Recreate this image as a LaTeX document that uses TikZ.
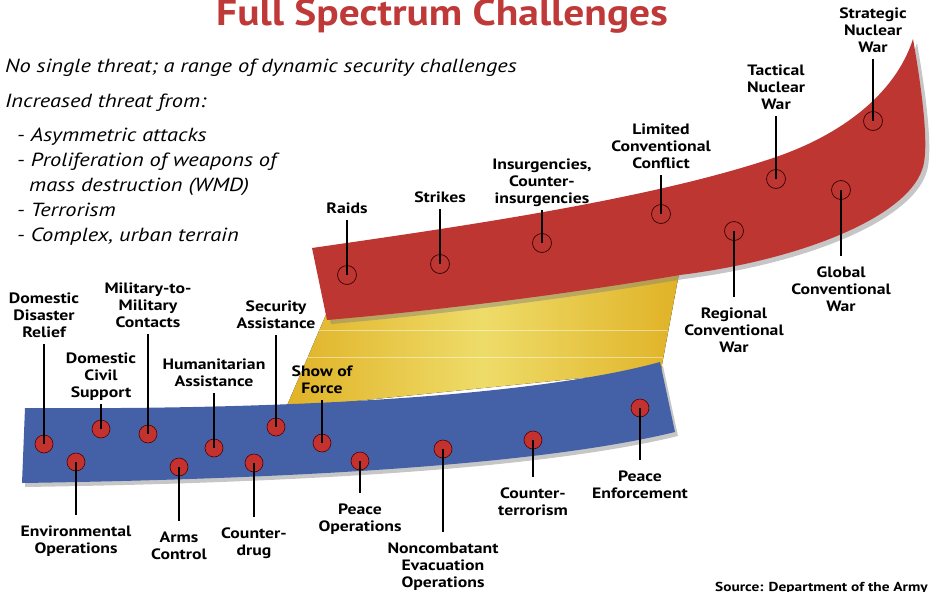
\documentclass[tikz,border=0pt]{standalone}
\usepackage{fontspec}
\setmainfont{PT Sans}[FakeStretch=1.18]
\newfontfamily\titlefont{PT Sans}[FakeStretch=1.12]
\usepackage{xcolor}
\usetikzlibrary{shadows,positioning}

\definecolor{bandred}{RGB}{190,54,50}
\definecolor{bandblue}{RGB}{68,96,166}
\definecolor{dotred}{RGB}{196,50,48}
\definecolor{titlered}{RGB}{192,57,57}
\definecolor{golddark}{RGB}{224,178,38}
\definecolor{goldlight}{RGB}{238,220,105}

\tikzstyle{lbl} = [align=center, font=\bfseries\fontsize{15}{17}\selectfont, inner xsep=1pt, outer sep=0pt]
\tikzstyle{lblup} = [lbl, anchor=south, inner ysep=6.5pt, text depth=0pt]
\tikzstyle{lbldn} = [lbl, anchor=north, inner ysep=11pt]
\tikzstyle{bluedot} = [circle, draw=black!70!red, line width=0.6pt, fill=dotred, minimum size=18pt, inner sep=0pt]
\tikzstyle{reddot} = [circle, draw=black!80!red, line width=0.7pt, minimum size=19pt, inner sep=0pt]
\tikzstyle{lead} = [line width=2pt]
\tikzstyle{note} = [anchor=base west, inner sep=0pt, font=\itshape\fontsize{19}{25}\selectfont]

\begin{document}
\begin{tikzpicture}[x=1pt, y=-1pt]
	\useasboundingbox (0,0) rectangle (930,592);

	% the three bands
	\fill[left color=golddark, right color=golddark, middle color=goldlight] (286,408) -- (328,310) -- (680,268) -- (661,370) -- cycle;
	\draw[white, opacity=.45, line width=.6pt] (319,330) -- (668,330);
	\draw[white, opacity=.45, line width=.6pt] (307,357) -- (663,357);
	\fill[bandblue, drop shadow={shadow xshift=3pt, shadow yshift=-4pt, opacity=.45}]
		(25,408) .. controls (300,410) and (540,395) .. (660,362) -- (675,432)
		.. controls (560,460) and (350,478) .. (22,483) -- cycle;
	\fill[bandred, drop shadow={shadow xshift=4pt, shadow yshift=-4pt, opacity=.45}]
		(312,248) .. controls (450,228) and (650,200) .. (776,157)
		.. controls (840,135) and (895,95) .. (913,39)
		.. controls (922,90) and (930,150) .. (922,170)
		.. controls (905,218) and (800,260) .. (680,275)
		.. controls (550,297) and (420,312) .. (327,320) -- cycle;

	% title and notes
	\node[font=\titlefont\bfseries\fontsize{37}{40}\selectfont, text=titlered, anchor=base] (title) at (442,25) {Full Spectrum Challenges};
	\node[note] (n1) at (5,72) {No single threat; a range of dynamic security challenges};
	\node[note] (n2) at (5,107) {Increased threat from:};
	\node[note] (n3) at (17,141) {- Asymmetric attacks};
	\node[note] (n4) at (17,166) {- Proliferation of weapons of};
	\node[note] (n5) at (29,191) {mass destruction (WMD)};
	\node[note] (n6) at (17,216) {- Terrorism};
	\node[note] (n7) at (17,241) {- Complex, urban terrain};
	\node[anchor=base east, inner sep=0pt, font=\bfseries\fontsize{13}{15}\selectfont] (src) at (928,591) {Source: Department of the Army};

	% blue band
	\node[bluedot] (dddr) at (44,444) {};
	\node[lblup] (ddr) at (44,344) {Domestic\\Disaster\\Relief};
	\draw[lead] (dddr.center) -- (ddr.south);
	\node[bluedot] (ddcs) at (101,429) {};
	\node[lblup] (dcs) at (101,404) {Domestic\\Civil\\Support};
	\draw[lead] (ddcs.center) -- (dcs.south);
	\node[bluedot] (dmil) at (148,434) {};
	\node[lblup] (mil) at (148,334) {Military-to-\\Military\\Contacts};
	\draw[lead] (dmil.center) -- (mil.south);
	\node[bluedot] (dhum) at (214,448) {};
	\node[lblup] (hum) at (214,393) {Humanitarian\\Assistance};
	\draw[lead] (dhum.center) -- (hum.south);
	\node[bluedot] (dsec) at (276,427) {};
	\node[lblup] (sec) at (276,335) {Security\\Assistance};
	\draw[lead] (dsec.center) -- (sec.south);
	\node[bluedot] (dsof) at (322,443) {};
	\node[lblup] (sof) at (322,400) {Show of\\Force};
	\draw[lead] (dsof.center) -- (sof.south);
	\node[bluedot] (denv) at (76,462) {};
	\node[lbldn] (env) at (76,515) {Environmental\\Operations};
	\draw[lead] (denv.center) -- (env.north);
	\node[bluedot] (darms) at (179,467) {};
	\node[lbldn] (arms) at (179,521) {Arms\\Control};
	\draw[lead] (darms.center) -- (arms.north);
	\node[bluedot] (dcd) at (254,463) {};
	\node[lbldn] (cd) at (254,517) {Counter-\\drug};
	\draw[lead] (dcd.center) -- (cd.north);
	\node[bluedot] (dpops) at (360,461) {};
	\node[lbldn] (pops) at (360,493) {Peace\\Operations};
	\draw[lead] (dpops.center) -- (pops.north);
	\node[bluedot] (dneo) at (443,449) {};
	\node[lbldn] (neo) at (443,532) {Noncombatant\\Evacuation\\Operations};
	\draw[lead] (dneo.center) -- (neo.north);
	\node[bluedot] (dct) at (533,440) {};
	\node[lbldn] (ct) at (533,477) {Counter-\\terrorism};
	\draw[lead] (dct.center) -- (ct.north);
	\node[bluedot] (dpe) at (640,408) {};
	\node[lbldn] (pe) at (640,460) {Peace\\Enforcement};
	\draw[lead] (dpe.center) -- (pe.north);

	% red band
	\node[reddot] (draids) at (347,275) {};
	\node[lblup] (raids) at (347,220) {Raids};
	\draw[lead] (draids.center) -- (raids.south);
	\node[reddot] (dstr) at (440,264) {};
	\node[lblup] (str) at (440,209) {Strikes};
	\draw[lead] (dstr.center) -- (str.south);
	\node[reddot] (dins) at (542,243) {};
	\node[lblup] (ins) at (542,210) {Insurgencies,\\Counter-\\insurgencies};
	\draw[lead] (dins.center) -- (ins.south);
	\node[reddot] (dlcc) at (661,214) {};
	\node[lblup] (lcc) at (661,175) {Limited\\Conventional\\Conflict};
	\draw[lead] (dlcc.center) -- (lcc.south);
	\node[reddot] (dtnw) at (776,179) {};
	\node[lblup] (tnw) at (776,116) {Tactical\\Nuclear\\War};
	\draw[lead] (dtnw.center) -- (tnw.south);
	\node[reddot] (dsnw) at (873,121) {};
	\node[lblup] (snw) at (873,59) {Strategic\\Nuclear\\War};
	\draw[lead] (dsnw.center) -- (snw.south);
	\node[reddot] (drcw) at (734,231) {};
	\node[lbldn] (rcw) at (734,297) {Regional\\Conventional\\War};
	\draw[lead] (drcw.center) -- (rcw.north);
	\node[reddot] (dgcw) at (841,190) {};
	\node[lbldn] (gcw) at (841,256) {Global\\Conventional\\War};
	\draw[lead] (dgcw.center) -- (gcw.north);
\end{tikzpicture}
\end{document}
